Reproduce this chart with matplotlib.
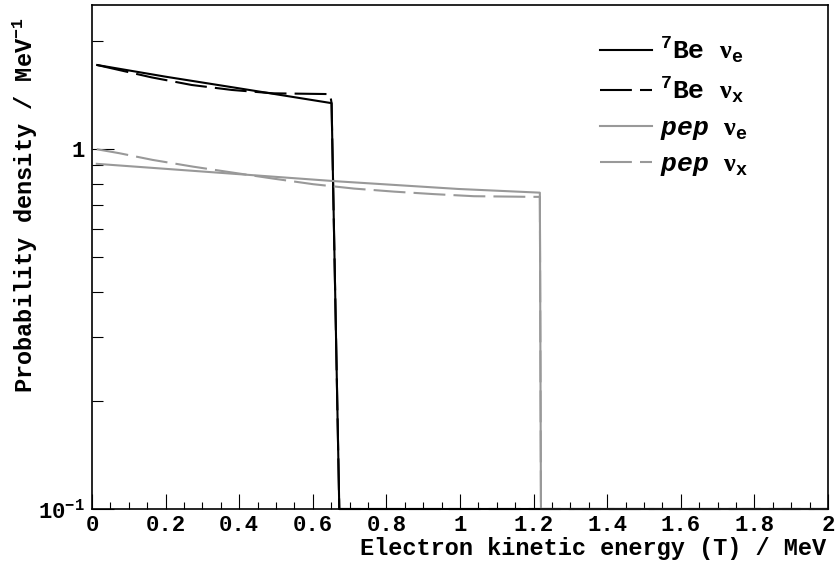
import matplotlib
matplotlib.use('Agg')
import matplotlib.pyplot as plt
from matplotlib.ticker import FixedLocator, NullFormatter, MultipleLocator

plt.rcParams['font.family'] = ['Liberation Mono', 'DejaVu Sans']
plt.rcParams['font.weight'] = 'bold'
plt.rcParams['axes.labelweight'] = 'bold'
plt.rcParams['mathtext.fontset'] = 'custom'
plt.rcParams['mathtext.rm'] = 'Liberation Mono:bold'
plt.rcParams['mathtext.bf'] = 'Liberation Mono:bold'
plt.rcParams['mathtext.it'] = 'Liberation Mono:bold:italic'
plt.rcParams['mathtext.sf'] = 'Liberation Serif'
plt.rcParams['mathtext.default'] = 'rm'

# 7Be spectra (electron kinetic energy in MeV, probability density in 1/MeV)
be_T_e = [0.014, 0.2, 0.4, 0.651, 0.672, 2.0]
be_P_e = [1.71, 1.587, 1.473, 1.34, 0.1, 0.1]
be_T_x = [0.014, 0.162, 0.271, 0.38, 0.492, 0.60, 0.647, 0.651, 0.672, 2.0]
be_P_x = [1.71, 1.58, 1.505, 1.458, 1.427, 1.422, 1.42, 1.34, 0.1, 0.1]

# pep spectra
pep_T_e = [0.013, 0.33, 0.665, 0.996, 1.217, 1.22, 2.0]
pep_P_e = [0.909, 0.861, 0.813, 0.774, 0.756, 0.1, 0.1]
pep_T_x = [0.013, 0.074, 0.165, 0.274, 0.384, 0.493, 0.601, 0.712, 0.821,
           0.929, 1.038, 1.147, 1.19, 1.217, 1.22, 2.0]
pep_P_x = [0.998, 0.973, 0.932, 0.893, 0.859, 0.827, 0.798, 0.776, 0.761,
           0.749, 0.739, 0.737, 0.736, 0.736, 0.1, 0.1]

labels = [r'$^{7}$Be $\mathsf{\nu}_{e}$', r'$^{7}$Be $\mathsf{\nu}_{x}$',
          r'$\mathit{pep}$ $\mathsf{\nu}_{e}$', r'$\mathit{pep}$ $\mathsf{\nu}_{x}$']

black = '#000000'
grey = '#999999'
dash = (15.3, 3.9)

fig = plt.figure(figsize=(8.37, 5.62), dpi=100)
ax = fig.add_axes([92 / 837, 1 - 509 / 562, 736 / 837, 504 / 562])

ax.plot(be_T_e, be_P_e, color=black, lw=1.5, label=labels[0], clip_on=False)
ax.plot(be_T_x, be_P_x, color=black, lw=1.5, label=labels[1], clip_on=False,
        dashes=dash)
ax.plot(pep_T_e, pep_P_e, color=grey, lw=1.5, label=labels[2], clip_on=False)
ax.plot(pep_T_x, pep_P_x, color=grey, lw=1.5, label=labels[3], clip_on=False,
        dashes=dash)

ax.set_yscale('log')
ax.set_xlim(0, 2)
ax.set_ylim(0.1, 2.51)

ax.xaxis.set_major_locator(MultipleLocator(0.2))
ax.xaxis.set_minor_locator(MultipleLocator(0.05))
ax.xaxis.set_major_formatter(plt.FuncFormatter(lambda v, p: '%g' % round(v, 2)))
ax.yaxis.set_major_locator(FixedLocator([0.1, 1]))
ax.yaxis.set_minor_locator(FixedLocator([0.2, 0.3, 0.4, 0.5, 0.6, 0.7, 0.8, 0.9, 2]))
ax.yaxis.set_major_formatter(plt.FuncFormatter(
    lambda v, p: r'$10^{-1}$' if v < 0.5 else '1'))
ax.yaxis.set_minor_formatter(NullFormatter())

ax.tick_params(axis='x', which='major', direction='in', length=10.8, width=0.8,
               labelsize=16, pad=4)
ax.tick_params(axis='x', which='minor', direction='in', length=5.4, width=0.8)
ax.tick_params(axis='y', which='major', direction='in', length=15.8, width=0.8,
               labelsize=16, pad=5)
ax.tick_params(axis='y', which='minor', direction='in', length=7.9, width=0.8)
for s in ax.spines.values():
    s.set_linewidth(1.2)

ax.set_xlabel('Electron kinetic energy (T) / MeV', fontsize=17, loc='right')
ax.xaxis.set_label_coords(0.997, -0.056)
ax.set_ylabel(r'Probability density / MeV$^{-1}$', fontsize=17, loc='top')
ax.yaxis.set_label_coords(-0.07, 0.975)

leg = ax.legend(loc='upper left', bbox_to_anchor=(0.676, 0.96), frameon=False,
                fontsize=19, handlelength=1.97, handletextpad=0.3,
                labelspacing=0.38, borderaxespad=0)

fig.savefig('out.png', dpi=100)
